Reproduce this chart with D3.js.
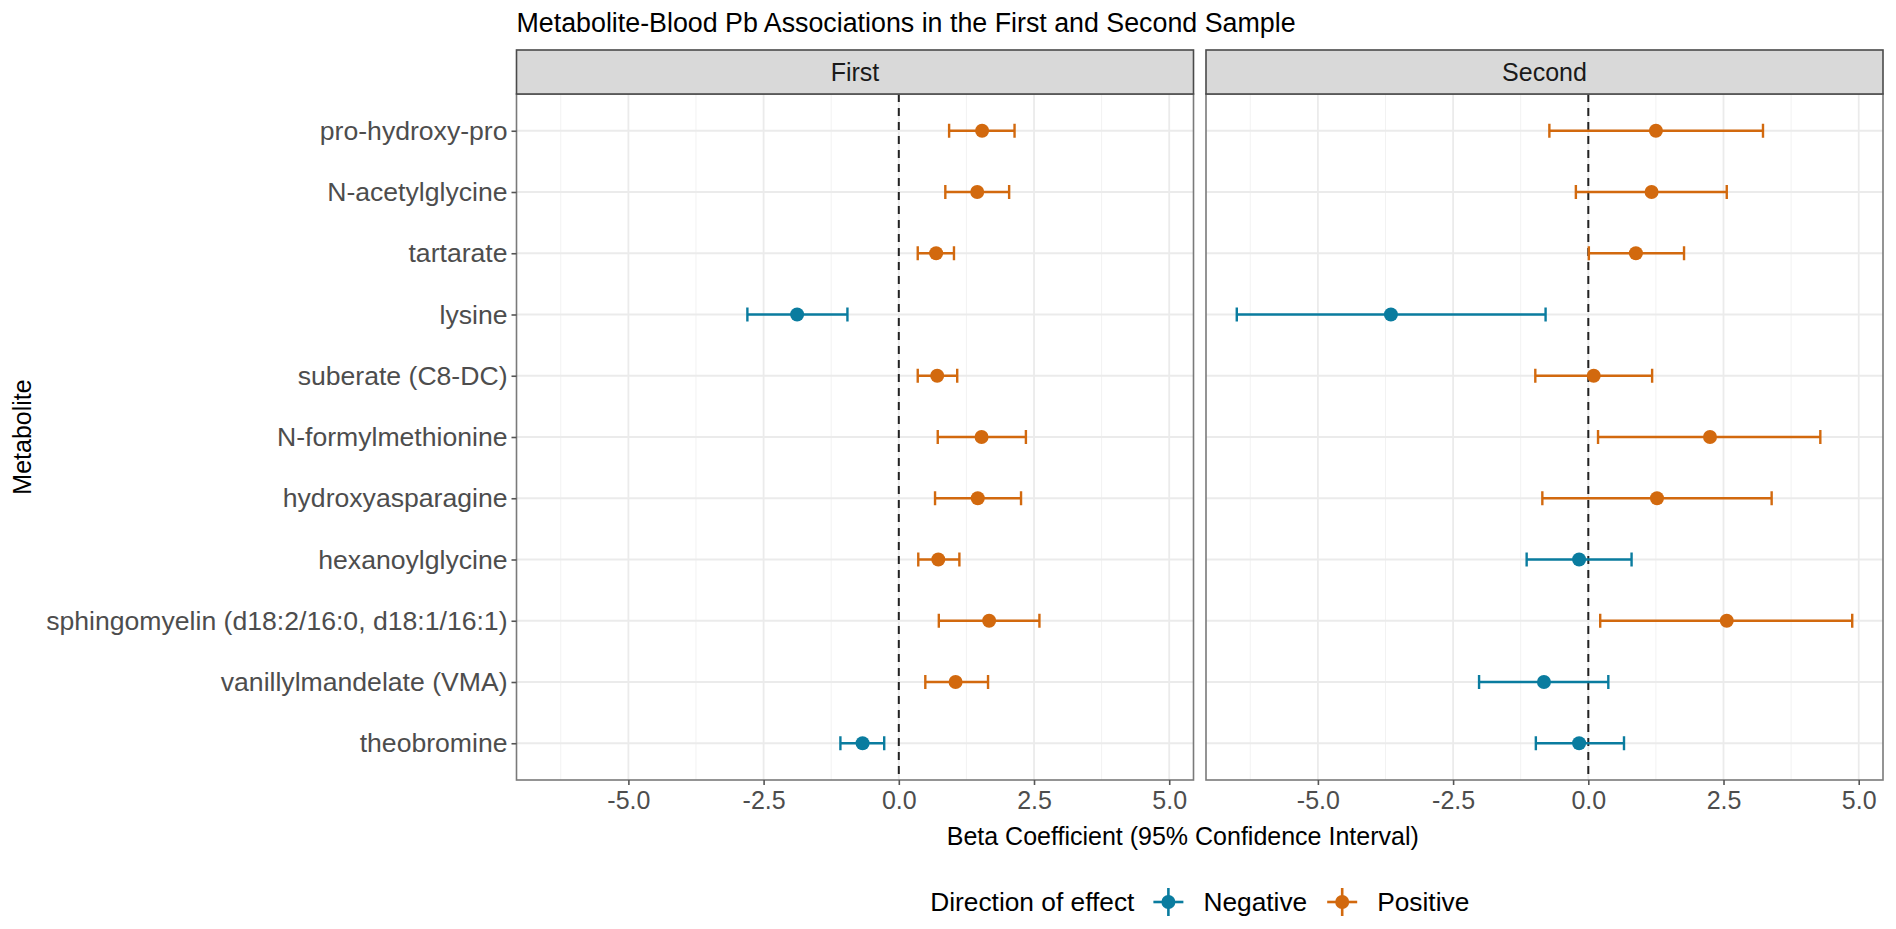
<!DOCTYPE html>
<html>
<head>
<meta charset="utf-8">
<script src="https://cdn.jsdelivr.net/npm/d3@7"></script>
<style>
  html, body { margin: 0; padding: 0; background: #ffffff; }
  svg { display: block; }
  text { font-family: "Liberation Sans", Arial, Helvetica, sans-serif; }
</style>
</head>
<body>
<svg id="chart" width="1896" height="929"></svg>
<script>
// ---------------- data ----------------
const metabolites = [
  "pro-hydroxy-pro",
  "N-acetylglycine",
  "tartarate",
  "lysine",
  "suberate (C8-DC)",
  "N-formylmethionine",
  "hydroxyasparagine",
  "hexanoylglycine",
  "sphingomyelin (d18:2/16:0, d18:1/16:1)",
  "vanillylmandelate (VMA)",
  "theobromine"
];
const panels = ["First", "Second"];

const firstBeta = [1.54, 1.45, 0.69, -1.88, 0.71, 1.53, 1.46, 0.73, 1.67, 1.05, -0.67];
const firstLow  = [0.93, 0.86, 0.35, -2.80, 0.35, 0.72, 0.67, 0.36, 0.74, 0.49, -1.08];
const firstHigh = [2.14, 2.04, 1.02, -0.95, 1.08, 2.35, 2.26, 1.12, 2.60, 1.65, -0.27];

const secondBeta = [1.25, 1.17, 0.88, -3.65, 0.10, 2.25, 1.27, -0.17, 2.56, -0.82, -0.17];
const secondLow  = [-0.72, -0.23, 0.01, -6.50, -0.98, 0.18, -0.85, -1.14, 0.22, -2.02, -0.97];
const secondHigh = [3.23, 2.56, 1.77, -0.79, 1.18, 4.29, 3.39, 0.80, 4.88, 0.37, 0.66];

const xTicks = [-5.0, -2.5, 0.0, 2.5, 5.0];
const xMinorTicks = [-6.25, -3.75, -1.25, 1.25, 3.75];
const directions = ["Negative", "Positive"];
const directionColors = ["#0a7c9f", "#d2690e"];

const titleText = "Metabolite-Blood Pb Associations in the First and Second Sample";
const xTitleText = "Beta Coefficient (95% Confidence Interval)";
const yTitleText = "Metabolite";
const legendTitleText = "Direction of effect";

// ---------------- build rows ----------------
const seriesByPanel = [
  {beta: firstBeta, low: firstLow, high: firstHigh},
  {beta: secondBeta, low: secondLow, high: secondHigh}
];
const rows = [];
panels.forEach((p, pi) => {
  metabolites.forEach((m, i) => {
    const s = seriesByPanel[pi];
    rows.push({panel: p, pi, metabolite: m, beta: s.beta[i], low: s.low[i], high: s.high[i],
               dir: s.beta[i] < 0 ? "Negative" : "Positive"});
  });
});

// ---------------- layout ----------------
const svg = d3.select("#chart");
const panelTop = 94, panelBottom = 780;
const stripTop = 50;
const panelLeft0 = 516.5, panelW = 677, panelGap = 12.5;
const panelLefts = panels.map((p, i) => panelLeft0 + i * (panelW + panelGap));

const lo = d3.min(rows, d => d.low), hi = d3.max(rows, d => d.high);
const pad = 0.05 * (hi - lo);
const x = d3.scaleLinear().domain([lo - pad, hi + pad]).range([0, panelW]);
const y = d3.scalePoint().domain(metabolites).range([panelTop, panelBottom]).padding(0.6);
const color = d3.scaleOrdinal().domain(directions).range(directionColors);

const FS = 25;
const FS_Y = 26.6;
const FS_LEG = 26.3;
const tickColor = "#4d4d4d";
const borderColor = "#4a4a4a";

// Title
svg.append("text")
  .attr("x", panelLeft0).attr("y", 32)
  .attr("font-size", 26.8).attr("fill", "#000")
  .text(titleText);

panels.forEach((p, pi) => {
  const g = svg.append("g").attr("transform", `translate(${panelLefts[pi]},0)`);
  const data = rows.filter(d => d.pi === pi);

  g.append("rect").attr("x", 0).attr("y", panelTop).attr("width", panelW)
    .attr("height", panelBottom - panelTop).attr("fill", "#fff");

  g.selectAll(".minor").data(xMinorTicks).join("line")
    .attr("x1", d => x(d)).attr("x2", d => x(d))
    .attr("y1", panelTop).attr("y2", panelBottom)
    .attr("stroke", "#f2f2f2").attr("stroke-width", 1);
  g.selectAll(".majorx").data(xTicks).join("line")
    .attr("x1", d => x(d)).attr("x2", d => x(d))
    .attr("y1", panelTop).attr("y2", panelBottom)
    .attr("stroke", "#ebebeb").attr("stroke-width", 1.8);
  g.selectAll(".majory").data(metabolites).join("line")
    .attr("x1", 0).attr("x2", panelW)
    .attr("y1", d => y(d)).attr("y2", d => y(d))
    .attr("stroke", "#ebebeb").attr("stroke-width", 1.8);

  g.append("line")
    .attr("x1", x(0)).attr("x2", x(0))
    .attr("y1", panelTop).attr("y2", panelBottom)
    .attr("stroke", "#222").attr("stroke-width", 2)
    .attr("stroke-dasharray", "8,6");

  const capH = 7;
  const eb = g.selectAll(".eb").data(data).join("g");
  eb.append("line")
    .attr("x1", d => x(d.low)).attr("x2", d => x(d.high))
    .attr("y1", d => y(d.metabolite)).attr("y2", d => y(d.metabolite))
    .attr("stroke", d => color(d.dir)).attr("stroke-width", 2.6);
  eb.append("line")
    .attr("x1", d => x(d.low)).attr("x2", d => x(d.low))
    .attr("y1", d => y(d.metabolite) - capH).attr("y2", d => y(d.metabolite) + capH)
    .attr("stroke", d => color(d.dir)).attr("stroke-width", 2.4);
  eb.append("line")
    .attr("x1", d => x(d.high)).attr("x2", d => x(d.high))
    .attr("y1", d => y(d.metabolite) - capH).attr("y2", d => y(d.metabolite) + capH)
    .attr("stroke", d => color(d.dir)).attr("stroke-width", 2.4);
  g.selectAll(".pt").data(data).join("circle")
    .attr("cx", d => x(d.beta)).attr("cy", d => y(d.metabolite))
    .attr("r", 7).attr("fill", d => color(d.dir));

  g.append("rect").attr("x", 0).attr("y", panelTop).attr("width", panelW)
    .attr("height", panelBottom - panelTop)
    .attr("fill", "none").attr("stroke", "#7a7a7a").attr("stroke-width", 1.6);

  g.append("rect").attr("x", 0).attr("y", stripTop).attr("width", panelW)
    .attr("height", panelTop - stripTop)
    .attr("fill", "#d9d9d9").attr("stroke", borderColor).attr("stroke-width", 1.6);
  g.append("text")
    .attr("x", panelW / 2).attr("y", (stripTop + panelTop) / 2)
    .attr("dy", "0.35em")
    .attr("text-anchor", "middle").attr("font-size", FS).attr("fill", "#1a1a1a")
    .text(p);

  const xAxis = d3.axisBottom(x).tickValues(xTicks).tickFormat(d3.format(".1f"))
    .tickSize(5).tickPadding(6);
  const ax = g.append("g").attr("transform", `translate(0,${panelBottom})`).call(xAxis);
  ax.select(".domain").remove();
  ax.selectAll(".tick line").attr("stroke", "#555").attr("stroke-width", 1.6);
  ax.selectAll(".tick text").attr("font-size", FS).attr("fill", tickColor)
    .attr("font-family", "Liberation Sans, Arial, sans-serif")
    .text(d => d3.format(".1f")(d).replace("\u2212", "-"));

  if (pi === 0) {
    const yAxis = d3.axisLeft(y).tickSize(5).tickPadding(4);
    const ay = g.append("g").call(yAxis);
    ay.select(".domain").remove();
    ay.selectAll(".tick line").attr("stroke", "#555").attr("stroke-width", 1.6);
    ay.selectAll(".tick text").attr("font-size", FS_Y).attr("fill", tickColor)
      .attr("font-family", "Liberation Sans, Arial, sans-serif");
  }
});

// axis titles
const plotCenter = (panelLefts[0] + panelLefts[1] + panelW) / 2;
svg.append("text")
  .attr("x", plotCenter - 17).attr("y", 845)
  .attr("text-anchor", "middle").attr("font-size", FS).attr("fill", "#000")
  .text(xTitleText);
svg.append("text")
  .attr("transform", `translate(31,${(panelTop + panelBottom) / 2}) rotate(-90)`)
  .attr("text-anchor", "middle").attr("font-size", FS).attr("fill", "#000")
  .text(yTitleText);

// legend
const legendY = 902;
const lg = svg.append("g");
const lt = lg.append("text").attr("x", 0).attr("y", legendY).attr("dy", "0.35em")
  .attr("font-size", FS_LEG).attr("fill", "#000").text(legendTitleText);
let cx = lt.node().getComputedTextLength() + 18;
directions.forEach((dname, i) => {
  const kc = cx + 16;
  const c = color(dname);
  lg.append("line").attr("x1", kc - 15).attr("x2", kc + 15)
    .attr("y1", legendY).attr("y2", legendY).attr("stroke", c).attr("stroke-width", 2.6);
  lg.append("line").attr("x1", kc).attr("x2", kc)
    .attr("y1", legendY - 14).attr("y2", legendY + 14).attr("stroke", c).attr("stroke-width", 2.6);
  lg.append("circle").attr("cx", kc).attr("cy", legendY).attr("r", 7).attr("fill", c);
  const t = lg.append("text").attr("x", kc + 35).attr("y", legendY).attr("dy", "0.35em")
    .attr("font-size", FS_LEG).attr("fill", "#000").text(dname);
  cx = kc + 35 + t.node().getComputedTextLength() + 19;
});
const lgW = cx - 19;
lg.attr("transform", `translate(${plotCenter - lgW / 2},0)`);
</script>
</body>
</html>
